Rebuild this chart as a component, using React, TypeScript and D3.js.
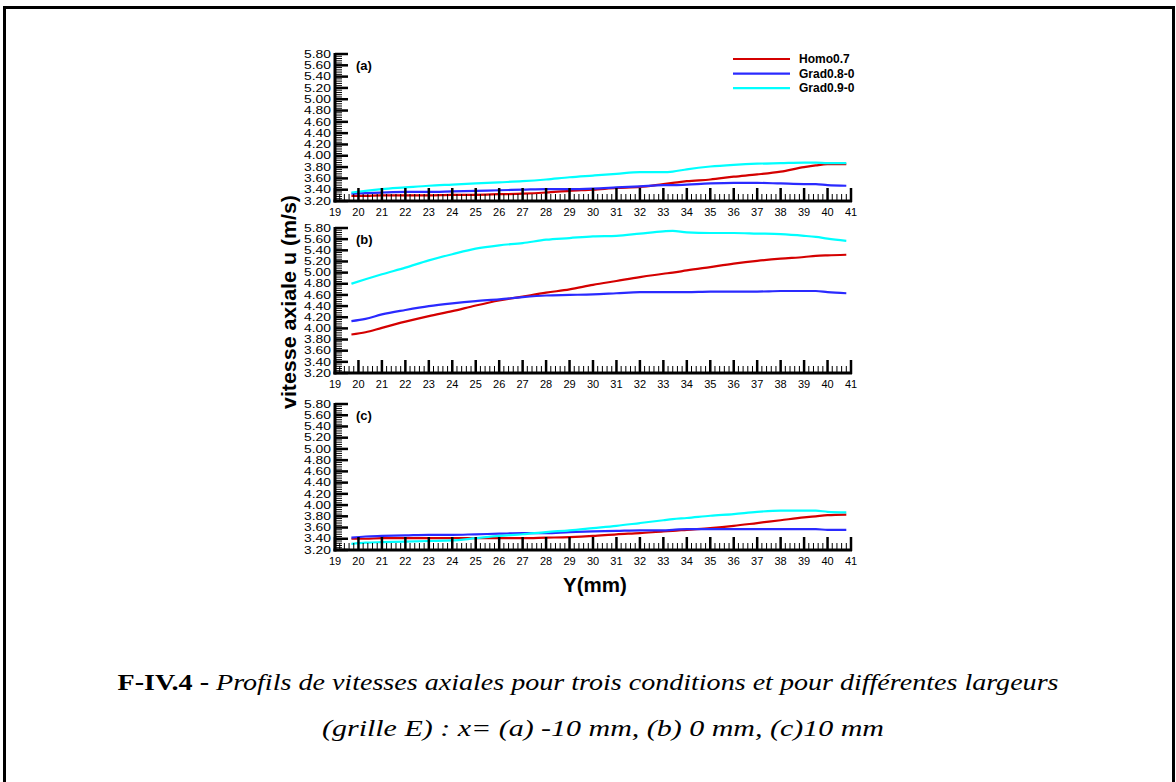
import React from "react";
import * as d3 from "d3";

const Y_MM = [19.7, 20.3, 21, 22, 23, 24, 25, 26, 27, 28, 29, 30, 31, 32, 33, 33.4, 34, 35, 36, 37, 38, 39, 39.5, 40, 40.8];

const A_HOMO = [3.29, 3.29, 3.30, 3.30, 3.30, 3.31, 3.31, 3.32, 3.33, 3.35, 3.38, 3.40, 3.43, 3.45, 3.50, 3.52, 3.55, 3.58, 3.63, 3.67, 3.72, 3.80, 3.83, 3.85, 3.85];
const A_GRAD08 = [3.33, 3.34, 3.35, 3.36, 3.36, 3.37, 3.38, 3.39, 3.40, 3.41, 3.41, 3.42, 3.44, 3.46, 3.48, 3.48, 3.49, 3.51, 3.52, 3.52, 3.51, 3.50, 3.50, 3.48, 3.47];
const A_GRAD09 = [3.35, 3.38, 3.41, 3.44, 3.47, 3.49, 3.51, 3.53, 3.55, 3.58, 3.62, 3.65, 3.68, 3.71, 3.71, 3.72, 3.76, 3.81, 3.84, 3.86, 3.87, 3.88, 3.88, 3.87, 3.87];

const B_HOMO = [3.89, 3.93, 4.01, 4.12, 4.22, 4.31, 4.41, 4.50, 4.57, 4.64, 4.70, 4.78, 4.85, 4.92, 4.98, 5.00, 5.04, 5.10, 5.16, 5.21, 5.25, 5.28, 5.30, 5.31, 5.32];
const B_GRAD08 = [4.13, 4.17, 4.25, 4.33, 4.40, 4.45, 4.49, 4.52, 4.56, 4.59, 4.60, 4.61, 4.63, 4.65, 4.65, 4.65, 4.65, 4.66, 4.66, 4.66, 4.67, 4.67, 4.67, 4.65, 4.63];
const B_GRAD09 = [4.80, 4.88, 4.97, 5.09, 5.22, 5.33, 5.43, 5.49, 5.53, 5.59, 5.62, 5.65, 5.66, 5.70, 5.74, 5.75, 5.72, 5.71, 5.71, 5.70, 5.69, 5.66, 5.64, 5.61, 5.57];

const C_HOMO = [3.40, 3.40, 3.41, 3.41, 3.41, 3.41, 3.41, 3.41, 3.41, 3.42, 3.43, 3.45, 3.48, 3.50, 3.53, 3.54, 3.56, 3.59, 3.63, 3.68, 3.73, 3.78, 3.80, 3.82, 3.83];
const C_GRAD08 = [3.42, 3.44, 3.45, 3.46, 3.47, 3.47, 3.48, 3.49, 3.50, 3.50, 3.52, 3.53, 3.54, 3.55, 3.55, 3.56, 3.57, 3.57, 3.57, 3.57, 3.57, 3.57, 3.57, 3.56, 3.56];
const C_GRAD09 = [3.31, 3.33, 3.34, 3.35, 3.36, 3.37, 3.41, 3.45, 3.48, 3.52, 3.55, 3.59, 3.63, 3.68, 3.73, 3.75, 3.77, 3.81, 3.84, 3.88, 3.90, 3.90, 3.90, 3.88, 3.87];

const SERIES_NAMES = ["Homo0.7", "Grad0.8-0", "Grad0.9-0"];
const SERIES_COLORS = ["#d40000", "#2a2aff", "#00ffff"];
const PANEL_LABELS = ["(a)", "(b)", "(c)"];
const PANEL_DATA = [
  [A_HOMO, A_GRAD08, A_GRAD09],
  [B_HOMO, B_GRAD08, B_GRAD09],
  [C_HOMO, C_GRAD08, C_GRAD09],
];
const X_TICKS = d3.range(19, 42);
const Y_TICKS = [3.2, 3.4, 3.6, 3.8, 4.0, 4.2, 4.4, 4.6, 4.8, 5.0, 5.2, 5.4, 5.6, 5.8];

const PANEL_TOPS = [54, 228, 404];
const PANEL_BOTTOMS = [201, 373, 550];
const X0 = 335;
const X1 = 851;
const SANS = "'Liberation Sans', Arial, sans-serif";
const SERIF = "'Liberation Serif', 'Times New Roman', serif";

function Panel({ idx }: { idx: number }) {
  const top = PANEL_TOPS[idx];
  const bottom = PANEL_BOTTOMS[idx];
  const x = d3.scaleLinear().domain([19, 41]).range([X0, X1]);
  const y = d3.scaleLinear().domain([3.2, 5.8]).range([bottom, top]);
  const line = d3
    .line<[number, number]>()
    .x((d) => x(d[0]))
    .y((d) => y(d[1]))
    .curve(d3.curveMonotoneX);
  const xMinor = d3.range(19, 41.001, 0.2).filter((v) => Math.abs(v - Math.round(v)) > 1e-6);
  const yMinor = d3.range(3.2, 5.8001, 0.04).filter((v) => Math.abs(v * 5 - Math.round(v * 5)) > 1e-6);
  return (
    <g>
      {PANEL_DATA[idx].map((vals, si) => (
        <path
          key={si}
          d={line(Y_MM.map((m, i) => [m, vals[i]] as [number, number])) || ""}
          fill="none"
          stroke={SERIES_COLORS[si]}
          strokeWidth={2.2}
        />
      ))}
      {xMinor.map((v, i) => (
        <line key={"xm" + i} x1={x(v)} x2={x(v)} y1={bottom} y2={bottom - 7} stroke="#000" strokeWidth={1} />
      ))}
      {X_TICKS.map((v) => (
        <line key={"xM" + v} x1={x(v)} x2={x(v)} y1={bottom + 1} y2={bottom - 13} stroke="#000" strokeWidth={2.5} />
      ))}
      {yMinor.map((v, i) => (
        <line key={"ym" + i} x1={X0} x2={X0 + 7} y1={y(v)} y2={y(v)} stroke="#000" strokeWidth={1} />
      ))}
      {Y_TICKS.map((v) => (
        <line key={"yM" + v} x1={X0} x2={X0 + 13} y1={y(v)} y2={y(v)} stroke="#000" strokeWidth={2.5} />
      ))}
      <line x1={X0 - 1.5} x2={X1 + 1} y1={bottom} y2={bottom} stroke="#000" strokeWidth={3} />
      <line x1={X0} x2={X0} y1={top - 1} y2={bottom + 1.5} stroke="#000" strokeWidth={3} />
      {X_TICKS.map((v) => (
        <text key={"xl" + v} x={x(v)} y={bottom + 14.5} textAnchor="middle" fontFamily={SANS} fontSize={11} fill="#000">
          {v}
        </text>
      ))}
      {Y_TICKS.map((v) => (
        <text
          key={"yl" + v}
          x={331}
          y={y(v) + 3.7}
          textAnchor="end"
          fontFamily={SANS}
          fontSize={10.5}
          fill="#000"
          textLength={27}
          lengthAdjust="spacingAndGlyphs"
        >
          {v.toFixed(2)}
        </text>
      ))}
      <text x={356} y={top + 16} fontFamily={SANS} fontWeight="bold" fontSize={13} fill="#000">
        {PANEL_LABELS[idx]}
      </text>
    </g>
  );
}

export default function App() {
  return (
    <svg
      width={1176}
      height={782}
      style={{ position: "absolute", left: 0, top: 0, background: "#fff" }}
      xmlns="http://www.w3.org/2000/svg"
    >
      <rect x={0} y={0} width={1176} height={782} fill="#fff" />
      <rect x={4.5} y={7.5} width={1169} height={800} fill="none" stroke="#000" strokeWidth={3} />
      {[0, 1, 2].map((i) => (
        <Panel key={i} idx={i} />
      ))}
      {SERIES_NAMES.map((n, i) => (
        <g key={n}>
          <line x1={733} x2={790} y1={59 + i * 14.6} y2={59 + i * 14.6} stroke={SERIES_COLORS[i]} strokeWidth={2.2} />
          <text x={799} y={59 + i * 14.6 + 4.2} fontFamily={SANS} fontWeight="bold" fontSize={12} fill="#000">
            {n}
          </text>
        </g>
      ))}
      <text
        transform="translate(296,302) rotate(-90)"
        textAnchor="middle"
        fontFamily={SANS}
        fontWeight="bold"
        fontSize={21}
        fill="#000"
        textLength={214}
        lengthAdjust="spacingAndGlyphs"
      >
        vitesse axiale u (m/s)
      </text>
      <text x={595} y={592} textAnchor="middle" fontFamily={SANS} fontWeight="bold" fontSize={20.5} fill="#000">
        Y(mm)
      </text>
      <text x={588} y={690} textAnchor="middle" fontFamily={SERIF} fontSize={24} fill="#000" textLength={941} lengthAdjust="spacingAndGlyphs">
        <tspan fontWeight="bold">F-IV.4 - </tspan>
        <tspan fontStyle="italic">Profils de vitesses axiales pour trois conditions et pour différentes largeurs</tspan>
      </text>
      <text x={603} y={736} textAnchor="middle" fontFamily={SERIF} fontSize={24} fontStyle="italic" fill="#000" textLength={562} lengthAdjust="spacingAndGlyphs">
        (grille E) : x= (a) -10 mm, (b) 0 mm, (c)10 mm
      </text>
    </svg>
  );
}
